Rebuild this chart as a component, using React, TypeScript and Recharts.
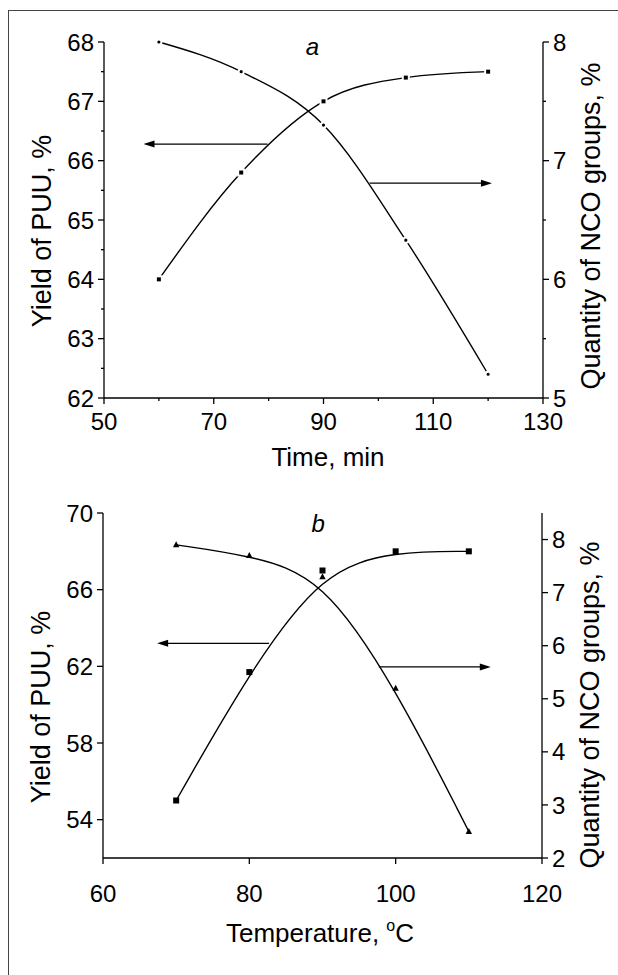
import React from "react"
import { LineChart, Line, XAxis, YAxis, ReferenceLine, ReferenceDot } from "recharts"

const FONT = '"Liberation Sans", Arial, Helvetica, sans-serif'

// panel a: synthesis time
const timeMin = [60, 75, 90, 105, 120]
const yieldByTime = [64.0, 65.8, 67.0, 67.4, 67.5]
const ncoByTime = [8.0, 7.75, 7.3, 6.33, 5.2]
const timeTicks = [50, 60, 70, 80, 90, 100, 110, 120, 130]
const timeLabels = [50, 70, 90, 110, 130]
const yieldTicksA = [62, 62.5, 63, 63.5, 64, 64.5, 65, 65.5, 66, 66.5, 67, 67.5, 68]
const yieldLabelsA = [62, 63, 64, 65, 66, 67, 68]
const ncoTicksA = [5, 5.5, 6, 6.5, 7, 7.5, 8]
const ncoLabelsA = [5, 6, 7, 8]

// panel b: temperature
const tempC = [70, 80, 90, 100, 110]
const yieldByTemp = [55.0, 61.7, 67.0, 68.0, 68.0]
const ncoByTemp = [7.9, 7.7, 7.3, 5.2, 2.5]
const tempTicks = [60, 80, 100, 120]
const yieldTicksB = [54, 58, 62, 66, 70]
const ncoTicksB = [2, 3, 4, 5, 6, 7, 8]

const dataA = timeMin.map((x, i) => ({ x, yld: yieldByTime[i], nco: ncoByTime[i] }))
const dataB = tempC.map((x, i) => ({ x, yld: yieldByTemp[i], nco: ncoByTemp[i] }))

const tickFont = { fontFamily: FONT, fontSize: 24, fill: "#000" }
const titleFont = { fontFamily: FONT, fill: "#000" }

// chart B sits below chart A on the page
const B_TOP = 484

// ticks drawn by hand so minor ticks can be shorter
function LeftTick(props: any) {
  const { x, y, payload, labels } = props
  const major = labels.includes(payload.value)
  return (
    <g>
      <line x1={x} x2={x - (major ? 6 : 3)} y1={y} y2={y} stroke="#000" strokeWidth={1.3} />
      {major && (
        <text x={x - 10} y={y} dy="0.36em" textAnchor="end" {...tickFont}>
          {payload.value}
        </text>
      )}
    </g>
  )
}

function RightTick(props: any) {
  const { x, y, payload, labels } = props
  const major = labels.includes(payload.value)
  return (
    <g>
      <line x1={x} x2={x + (major ? 6 : 3)} y1={y} y2={y} stroke="#000" strokeWidth={1.3} />
      {major && (
        <text x={x + 10} y={y} dy="0.36em" textAnchor="start" {...tickFont}>
          {payload.value}
        </text>
      )}
    </g>
  )
}

function BottomTick(props: any) {
  const { x, y, payload, labels, gap } = props
  const major = labels.includes(payload.value)
  return (
    <g>
      <line x1={x} x2={x} y1={y} y2={y + (major ? 6 : 3)} stroke="#000" strokeWidth={1.3} />
      {major && (
        <text x={x} y={y + gap} dy="0.71em" textAnchor="middle" {...tickFont}>
          {payload.value}
        </text>
      )}
    </g>
  )
}

function SquareDot(props: any) {
  const { cx, cy, index, halo } = props
  if (cx == null || cy == null) return <g key={`s-${index}`} />
  return (
    <rect
      key={`s-${index}`}
      x={cx - 3}
      y={cy - 3}
      width={6}
      height={6}
      fill="#000"
      stroke="#fff"
      strokeWidth={halo ? 2 : 0}
    />
  )
}

function CircleDot(props: any) {
  const { cx, cy, index } = props
  if (cx == null || cy == null) return <g key={`c-${index}`} />
  return <circle key={`c-${index}`} cx={cx} cy={cy} r={2.6} fill="#000" stroke="#fff" strokeWidth={2} />
}

function TriangleDot(props: any) {
  const { cx, cy, index } = props
  if (cx == null || cy == null) return <g key={`t-${index}`} />
  return <polygon key={`t-${index}`} points={`${cx},${cy - 3.5} ${cx + 3.2},${cy + 2.5} ${cx - 3.2},${cy + 2.5}`} fill="#000" />
}

function Arrow(props: any) {
  const { x1, y1, x2, y2 } = props
  // x1 -> tail, x2 -> head
  const dir = x2 > x1 ? 1 : -1
  return (
    <g>
      <line x1={x1} y1={y1} x2={x2 - dir * 8} y2={y2} stroke="#000" strokeWidth={1.3} />
      <polygon points={`${x2},${y2} ${x2 - dir * 11},${y2 - 3.5} ${x2 - dir * 11},${y2 + 3.5}`} fill="#000" />
    </g>
  )
}

function vTitle(text: string, cx: number, cy: number) {
  return () => (
    <text
      x={cx}
      y={cy}
      dy="0.36em"
      textAnchor="middle"
      transform={`rotate(-90 ${cx} ${cy})`}
      fontSize={27}
      {...titleFont}
    >
      {text}
    </text>
  )
}

function PanelLetter(props: any) {
  const { cx, cy, letter } = props
  return (
    <text x={cx} y={cy} dy="0.36em" textAnchor="middle" fontStyle="italic" {...tickFont}>
      {letter}
    </text>
  )
}

function TimeChart() {
  return (
    <LineChart width={618} height={B_TOP} data={dataA} margin={{ top: 42, right: 0, bottom: 0, left: 0 }}>
      <XAxis
        type="number"
        dataKey="x"
        domain={[50, 130]}
        ticks={timeTicks}
        interval={0}
        height={B_TOP - 398}
        tickSize={0}
        tickMargin={0}
        tickLine={false}
        axisLine={{ stroke: "#000", strokeWidth: 1.3 }}
        tick={(p: any) => <BottomTick {...p} labels={timeLabels} gap={15} />}
        label={{
          content: () => (
            <text x={328} y={457} dy="0.36em" textAnchor="middle" fontSize={26} {...titleFont}>
              Time, min
            </text>
          ),
        }}
      />
      <YAxis
        yAxisId="l"
        type="number"
        domain={[62, 68]}
        ticks={yieldTicksA}
        interval={0}
        width={104}
        tickSize={0}
        tickMargin={0}
        tickLine={false}
        axisLine={{ stroke: "#000", strokeWidth: 1.3 }}
        tick={(p: any) => <LeftTick {...p} labels={yieldLabelsA} />}
        label={{ content: vTitle("Yield of PUU, %", 41, 231) }}
      />
      <YAxis
        yAxisId="r"
        orientation="right"
        type="number"
        domain={[5, 8]}
        ticks={ncoTicksA}
        interval={0}
        width={75}
        tickSize={0}
        tickMargin={0}
        tickLine={false}
        axisLine={{ stroke: "#000", strokeWidth: 1.3 }}
        tick={(p: any) => <RightTick {...p} labels={ncoLabelsA} />}
        label={{ content: vTitle("Quantity of NCO groups, %", 590, 226) }}
      />
      <ReferenceLine
        yAxisId="l"
        segment={[{ x: 79.8, y: 66.28 }, { x: 57.2, y: 66.28 }]}
        shape={(p: any) => <Arrow {...p} />}
      />
      <ReferenceLine
        yAxisId="r"
        segment={[{ x: 98.4, y: 6.81 }, { x: 120.7, y: 6.81 }]}
        shape={(p: any) => <Arrow {...p} />}
      />
      <ReferenceDot yAxisId="l" x={88} y={67.92} r={0} shape={(p: any) => <PanelLetter {...p} letter="a" />} />
      <Line
        yAxisId="l"
        type="monotone"
        dataKey="yld"
        stroke="#000"
        strokeWidth={1.4}
        dot={(p: any) => <SquareDot {...p} halo />}
        isAnimationActive={false}
      />
      <Line
        yAxisId="r"
        type="monotone"
        dataKey="nco"
        stroke="#000"
        strokeWidth={1.4}
        dot={(p: any) => <CircleDot {...p} />}
        isAnimationActive={false}
      />
    </LineChart>
  )
}

function TempChart() {
  const h = 975 - B_TOP
  return (
    <LineChart width={618} height={h} data={dataB} margin={{ top: 513 - B_TOP, right: 0, bottom: 0, left: 0 }}>
      <XAxis
        type="number"
        dataKey="x"
        domain={[60, 120]}
        ticks={tempTicks}
        interval={0}
        height={975 - 858}
        tickSize={0}
        tickMargin={0}
        tickLine={false}
        axisLine={{ stroke: "#000", strokeWidth: 1.3 }}
        tick={(p: any) => <BottomTick {...p} labels={tempTicks} gap={27} />}
        label={{
          content: () => (
            <text x={320} y={933 - B_TOP} dy="0.36em" textAnchor="middle" fontSize={26} {...titleFont}>
              Temperature,{" "}
              <tspan fontSize={16} dy={-11}>
                o
              </tspan>
              <tspan dy={11}>C</tspan>
            </text>
          ),
        }}
      />
      <YAxis
        yAxisId="l"
        type="number"
        domain={[52, 70]}
        ticks={yieldTicksB}
        interval={0}
        width={103}
        tickSize={0}
        tickMargin={0}
        tickLine={false}
        axisLine={{ stroke: "#000", strokeWidth: 1.3 }}
        tick={(p: any) => <LeftTick {...p} labels={yieldTicksB} />}
        label={{ content: vTitle("Yield of PUU, %", 40, 707 - B_TOP) }}
      />
      <YAxis
        yAxisId="r"
        orientation="right"
        type="number"
        domain={[2, 8.5]}
        ticks={ncoTicksB}
        interval={0}
        width={76}
        tickSize={0}
        tickMargin={0}
        tickLine={false}
        axisLine={{ stroke: "#000", strokeWidth: 1.3 }}
        tick={(p: any) => <RightTick {...p} labels={ncoTicksB} />}
        label={{ content: vTitle("Quantity of NCO groups, %", 589, 705 - B_TOP) }}
      />
      <ReferenceLine
        yAxisId="l"
        segment={[{ x: 82.7, y: 63.2 }, { x: 67.4, y: 63.2 }]}
        shape={(p: any) => <Arrow {...p} />}
      />
      <ReferenceLine
        yAxisId="r"
        segment={[{ x: 97.7, y: 5.6 }, { x: 113.0, y: 5.6 }]}
        shape={(p: any) => <Arrow {...p} />}
      />
      <ReferenceDot yAxisId="l" x={89.4} y={69.45} r={0} shape={(p: any) => <PanelLetter {...p} letter="b" />} />
      <Line
        yAxisId="l"
        type="basis"
        dataKey="yld"
        stroke="#000"
        strokeWidth={1.4}
        dot={(p: any) => <SquareDot {...p} />}
        isAnimationActive={false}
      />
      <Line
        yAxisId="r"
        type="basis"
        dataKey="nco"
        stroke="#000"
        strokeWidth={1.4}
        dot={(p: any) => <TriangleDot {...p} />}
        isAnimationActive={false}
      />
    </LineChart>
  )
}

export default function App() {
  return (
    <div
      style={{
        position: "absolute",
        left: 0,
        top: 0,
        width: 618,
        height: 975,
        overflow: "hidden",
        background: "#fff",
      }}
    >
      <div
        style={{
          position: "absolute",
          left: 8,
          top: 10,
          width: 640,
          height: 1000,
          border: "1.5px solid #444",
        }}
      />
      <div style={{ position: "absolute", left: 0, top: 0 }}>
        <TimeChart />
      </div>
      <div style={{ position: "absolute", left: 0, top: B_TOP }}>
        <TempChart />
      </div>
    </div>
  )
}
